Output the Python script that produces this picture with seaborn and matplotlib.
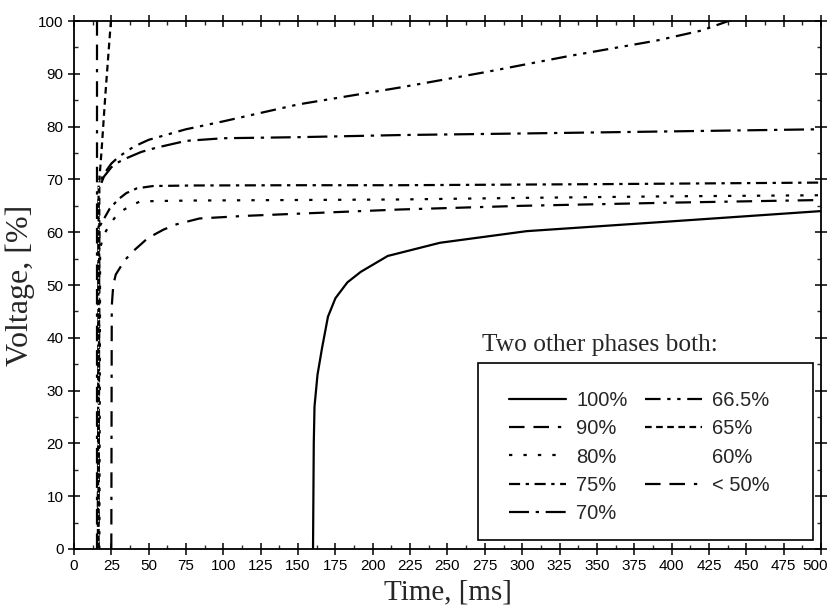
import matplotlib
matplotlib.use("Agg")
import matplotlib.pyplot as plt
from matplotlib.patches import Rectangle
from matplotlib.ticker import MultipleLocator
from matplotlib.transforms import ScaledTranslation
import seaborn as sns

# Voltage-tolerance curves: time [ms] vs. voltage [%] for each level of the two other phases
labels = ["100%", "90%", "80%", "75%", "70%", "66.5%", "65%", "60%", "< 50%"]

t_100 = [160, 160.5, 161, 163, 166, 170, 175, 183, 192, 210, 245, 303, 397, 500]
v_100 = [0, 20, 27, 33, 38, 44, 47.5, 50.5, 52.5, 55.5, 58.0, 60.2, 62.0, 64.0]

t_90 = [25, 25.3, 26.3, 28, 34, 40, 49.5, 60, 68.7, 84, 115, 218, 300, 400, 500]
v_90 = [0, 46, 50, 52, 54.7, 56.5, 58.9, 60.5, 61.5, 62.6, 63.1, 64.3, 65.0, 65.6, 66.1]

t_80 = [17, 17.5, 20, 24, 28, 33, 38, 44, 54, 80, 150, 218, 300, 400, 500]
v_80 = [0, 57, 59.5, 61.5, 63, 64.2, 65, 65.8, 65.9, 66, 66.1, 66.2, 66.5, 66.8, 67.0]

t_75 = [16.5, 17, 20, 24, 30, 35, 42, 53, 80, 150, 218, 350, 500]
v_75 = [0, 61, 62.5, 64.5, 66.3, 67.4, 68.3, 68.75, 68.85, 68.9, 68.9, 69.1, 69.4]

t_70 = [16, 16.5, 20, 25, 30, 35, 45, 55, 75, 100, 150, 218, 300, 400, 500]
v_70 = [0, 68, 70.5, 72.3, 73.3, 74, 75.2, 76, 77.3, 77.8, 78, 78.4, 78.7, 79.1, 79.5]

t_665 = [16, 16.5, 20, 25, 30, 40, 50, 75, 100, 150, 218, 275, 330, 390, 420, 438, 450]
v_665 = [0, 69, 71, 73, 74.3, 76.2, 77.5, 79.5, 81, 84.2, 87.4, 90.3, 93.3, 96.3, 98.2, 100, 101]

t_65 = [16.5, 17, 18.5, 21, 24.5, 25.5]
v_65 = [0, 70, 75.6, 86, 99.2, 103]

t_60 = [16, 16]
v_60 = [0, 100]

t_50 = [15.5, 15.5]
v_50 = [0, 100]

series_t = [t_100, t_90, t_80, t_75, t_70, t_665, t_65, t_60, t_50]
series_v = [v_100, v_90, v_80, v_75, v_70, v_665, v_65, v_60, v_50]

styles = [
    ("black", "-"),
    ("black", (0, (7, 4, 7, 4, 1.5, 4))),
    ("black", (0, (1.5, 5))),
    ("black", (0, (5, 2.5, 1.5, 2.5))),
    ("black", (0, (9, 3, 1.5, 3))),
    ("black", (0, (7, 3, 1.5, 3, 1.5, 3))),
    ("black", (0, (3, 2))),
    ("white", (0, (1, 4))),
    ("black", (0, (7, 4, 7, 4, 1.5, 4))),
]

sns.set_style("ticks")
plt.rcParams["font.family"] = ["Liberation Sans", "DejaVu Sans"]
serif = ["Liberation Serif", "DejaVu Serif"]

fig = plt.figure(figsize=(8.32, 6.06), dpi=100)
ax = fig.add_axes([0.0889, 0.0941, 0.8979, 0.8712])

for t, v, lab, (col, ls) in zip(series_t, series_v, labels, styles):
    lw = 1.0 if col == "white" else 1.6
    sns.lineplot(x=t, y=v, ax=ax, color=col, linestyle=ls, linewidth=lw,
                 sort=False, estimator=None, label=lab, legend=False)

ax.set_xlim(0, 500)
ax.set_ylim(0, 100)
ax.xaxis.set_major_locator(MultipleLocator(25))
ax.xaxis.set_minor_locator(MultipleLocator(12.5))
ax.yaxis.set_major_locator(MultipleLocator(10))
ax.yaxis.set_minor_locator(MultipleLocator(5))

for side in ["top", "right", "bottom", "left"]:
    ax.spines[side].set_visible(True)
    ax.spines[side].set_linewidth(1.3)
    ax.spines[side].set_color("black")

ax.tick_params(which="major", bottom=True, left=True, top=True, right=True,
               direction="in", length=6, width=1.1, colors="black",
               labelsize=11, pad=3)
ax.tick_params(which="minor", bottom=True, left=True, top=True, right=True,
               direction="in", length=3, width=1.0)
ax.tick_params(axis="x", which="major", bottom=True, direction="inout", length=9)
ax.tick_params(axis="y", which="major", left=True, direction="inout", length=9)

ax.set_xlabel("Time, [ms]", family=serif, fontsize=21, labelpad=4)
ax.set_ylabel("Voltage, [%]", family=serif, fontsize=23, labelpad=2)

# legend frame box
ax.add_patch(Rectangle((0.541, 0.017), 0.448, 0.335, transform=ax.transAxes,
                       facecolor="white", edgecolor="black", linewidth=1.2,
                       zorder=4))

handles = ax.get_lines()
leg = ax.legend(handles=handles, labels=labels, ncol=2, loc="upper left",
                bbox_to_anchor=(0.582, 0.300), frameon=False,
                fontsize=14.5, handlelength=2.85, handletextpad=0.5,
                columnspacing=0.85, labelspacing=0.47, borderpad=0,
                borderaxespad=0)
leg.set_zorder(5)

ax.text(0.546, 0.386, "Two other phases both:", transform=ax.transAxes,
        family=serif, fontsize=18.3, ha="left", va="center")

# nudge the rightmost time label so it stays inside the figure
fig.canvas.draw()
for tick in ax.xaxis.get_major_ticks():
    if abs(tick.get_loc() - 500) < 1e-6:
        lbl = tick.label1
        lbl.set_transform(lbl.get_transform() +
                          ScaledTranslation(-4 / 72, 0, fig.dpi_scale_trans))

fig.savefig("out.png", dpi=100)
